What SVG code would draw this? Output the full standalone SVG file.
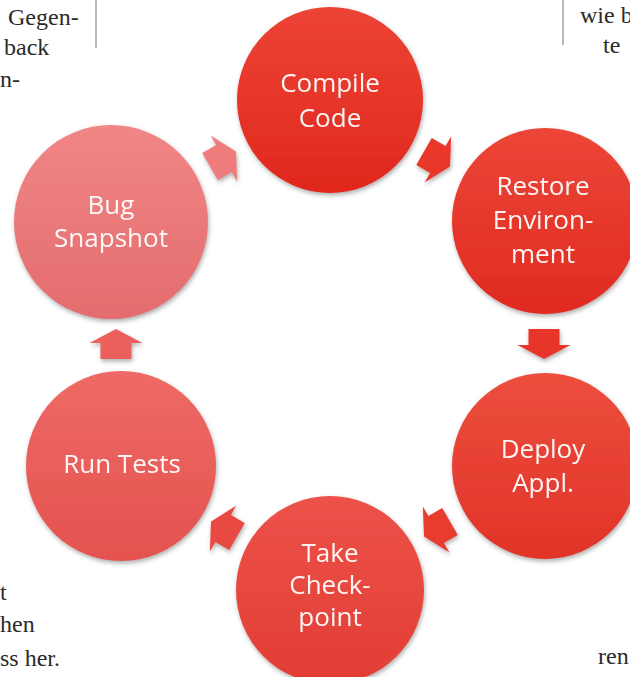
<svg xmlns="http://www.w3.org/2000/svg" width="630" height="677" viewBox="0 0 630 677">
<defs>
<style>
.page{font-family:"Liberation Serif","DejaVu Serif",serif;font-size:24px;fill:#2b2b2b}
.rule{stroke:#8a8a8a;stroke-width:1.2}
.lbl{font-family:"Open Sans","Noto Sans",sans-serif;font-size:26px;fill:#ffffff;fill-opacity:0.95;text-anchor:middle}
</style>
<filter id="sh" x="-20%" y="-20%" width="140%" height="140%">
<feDropShadow dx="1" dy="2.5" stdDeviation="2" flood-color="#505050" flood-opacity="0.45"/>
</filter>
<linearGradient id="g1" x1="0" y1="0" x2="0" y2="1"><stop offset="0" stop-color="#ec4436"/><stop offset="1" stop-color="#e1271d"/></linearGradient>
<linearGradient id="g2" x1="0" y1="0" x2="0" y2="1"><stop offset="0" stop-color="#ec4638"/><stop offset="1" stop-color="#e02a20"/></linearGradient>
<linearGradient id="g3" x1="0" y1="0" x2="0" y2="1"><stop offset="0" stop-color="#ec4e3e"/><stop offset="1" stop-color="#e13328"/></linearGradient>
<linearGradient id="g4" x1="0" y1="0" x2="0" y2="1"><stop offset="0" stop-color="#ec5248"/><stop offset="1" stop-color="#e23d35"/></linearGradient>
<linearGradient id="g5" x1="0" y1="0" x2="0" y2="1"><stop offset="0" stop-color="#ee6a66"/><stop offset="1" stop-color="#e4524f"/></linearGradient>
<linearGradient id="g6" x1="0" y1="0" x2="0" y2="1"><stop offset="0" stop-color="#f18686"/><stop offset="1" stop-color="#e46c6e"/></linearGradient>
<path id="arr" d="M-15,-15.5 L1,-15.5 L1,-26.5 L15,0 L1,26.5 L1,15.5 L-15,15.5 Z"/>
</defs>
<rect width="630" height="677" fill="#ffffff"/>

<g id="page-text">
<line class="rule" x1="96" y1="0" x2="96" y2="48"/>
<line class="rule" x1="563" y1="0" x2="563" y2="45"/>
<text class="page" x="8" y="25">Gegen-</text>
<text class="page" x="4" y="55">back</text>
<text class="page" x="0" y="87">n-</text>
<text class="page" x="580" y="23">wie b</text>
<text class="page" x="603" y="53">te</text>
<text class="page" x="0" y="600">t</text>
<text class="page" x="0" y="632">hen</text>
<text class="page" x="0" y="666">ss her.</text>
<text class="page" x="598" y="664">ren</text>
</g>

<g id="connectors" filter="url(#sh)">
<use href="#arr" fill="#e9382b" transform="translate(437,159) rotate(30)"/>
<use href="#arr" fill="#e8362a" transform="translate(544,344) rotate(90)"/>
<use href="#arr" fill="#e83c2f" transform="translate(437,529) rotate(150)"/>
<use href="#arr" fill="#e84840" transform="translate(224,529) rotate(210)"/>
<use href="#arr" fill="#eb5f5c" transform="translate(116,344) rotate(270)"/>
<use href="#arr" fill="#ee7c7c" transform="translate(223,159) rotate(330)"/>
</g>

<g id="compile-code">
<circle cx="330" cy="100" r="93" fill="url(#g1)" filter="url(#sh)"/>
<text class="lbl" x="330" y="92">Compile</text>
<text class="lbl" x="330" y="127">Code</text>
</g>
<g id="restore-environment">
<circle cx="545" cy="221" r="93" fill="url(#g2)" filter="url(#sh)"/>
<text class="lbl" x="543" y="195">Restore</text>
<text class="lbl" x="543" y="229">Environ-</text>
<text class="lbl" x="543" y="263">ment</text>
</g>
<g id="deploy-appl">
<circle cx="545" cy="466" r="93" fill="url(#g3)" filter="url(#sh)"/>
<text class="lbl" x="543" y="458">Deploy</text>
<text class="lbl" x="543" y="492">Appl.</text>
</g>
<g id="take-checkpoint">
<circle cx="330" cy="590" r="94" fill="url(#g4)" filter="url(#sh)"/>
<text class="lbl" x="330" y="562">Take</text>
<text class="lbl" x="330" y="594">Check-</text>
<text class="lbl" x="330" y="626">point</text>
</g>
<g id="run-tests">
<circle cx="121" cy="466" r="95" fill="url(#g5)" filter="url(#sh)"/>
<text class="lbl" x="122" y="473">Run Tests</text>
</g>
<g id="bug-snapshot">
<circle cx="111" cy="222" r="97" fill="url(#g6)" filter="url(#sh)"/>
<text class="lbl" x="111" y="214">Bug</text>
<text class="lbl" x="111" y="247">Snapshot</text>
</g>
</svg>
